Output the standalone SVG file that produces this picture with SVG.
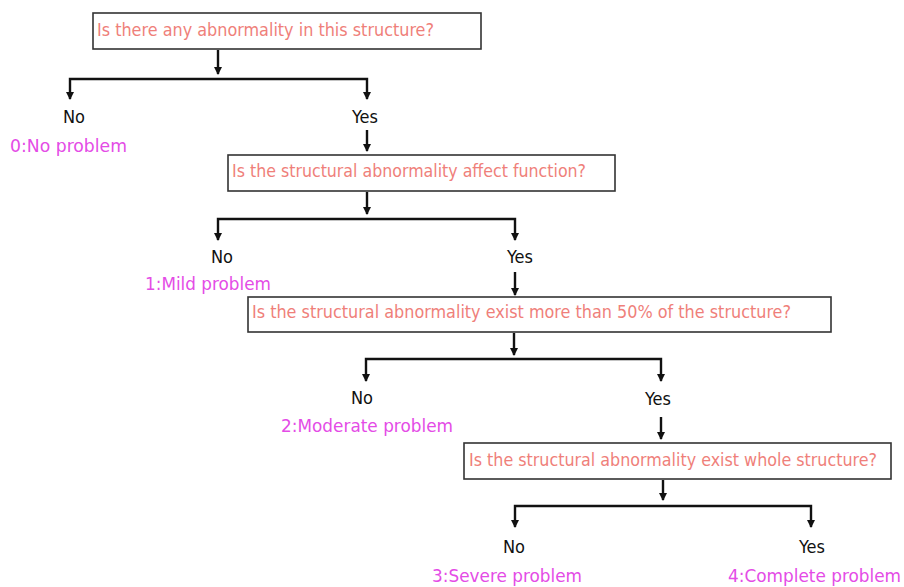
<svg xmlns="http://www.w3.org/2000/svg" width="904" height="587" viewBox="0 0 904 587">
<style>
.box{fill:#fff;stroke:#333;stroke-width:1.6}
.q{font-family:"DejaVu Sans Condensed","DejaVu Sans","Liberation Sans",sans-serif;font-size:17px;fill:#ef7f7a}
.a{font-family:"DejaVu Sans Condensed","DejaVu Sans","Liberation Sans",sans-serif;font-size:18px;fill:#111;text-anchor:middle}
.r{font-family:"DejaVu Sans Condensed","DejaVu Sans","Liberation Sans",sans-serif;font-size:18px;fill:#e44ce6}
.c{fill:none;stroke:#111;stroke-width:2.4}
</style>
<defs>
<marker id="arr" markerWidth="8" markerHeight="8" refX="4" refY="7" orient="0" markerUnits="userSpaceOnUse" viewBox="0 0 8 8">
<path d="M0,0 L8,0 L4,8 Z" fill="#111"/>
</marker>
</defs>
<g id="connectors">
<path class="c" d="M218,50 V74" marker-end="url(#arr)"/>
<path class="c" d="M70,99 V79 H367 V99" marker-start="url(#arr)" marker-end="url(#arr)"/>
<path class="c" d="M367,130 V151" marker-end="url(#arr)"/>
<path class="c" d="M367,192 V214" marker-end="url(#arr)"/>
<path class="c" d="M218,240 V219 H515 V240" marker-start="url(#arr)" marker-end="url(#arr)"/>
<path class="c" d="M515,272 V295" marker-end="url(#arr)"/>
<path class="c" d="M514,333 V355" marker-end="url(#arr)"/>
<path class="c" d="M366,381 V359 H661 V381" marker-start="url(#arr)" marker-end="url(#arr)"/>
<path class="c" d="M661,417 V439" marker-end="url(#arr)"/>
<path class="c" d="M663,480 V500" marker-end="url(#arr)"/>
<path class="c" d="M515,527 V506 H811 V527" marker-start="url(#arr)" marker-end="url(#arr)"/>
</g>
<g id="q1"><rect class="box" x="93" y="13" width="388" height="36"/><text class="q" x="97" y="36" textLength="337" lengthAdjust="spacingAndGlyphs">Is there any abnormality in this structure?</text></g>
<g id="no1"><text class="a" x="74" y="123">No</text></g>
<g id="yes1"><text class="a" x="365" y="123">Yes</text></g>
<g id="r0"><text class="r" x="10" y="152" textLength="117" lengthAdjust="spacingAndGlyphs">0:No problem</text></g>
<g id="q2"><rect class="box" x="228" y="155" width="387" height="36"/><text class="q" x="232" y="177" textLength="354" lengthAdjust="spacingAndGlyphs">Is the structural abnormality affect function?</text></g>
<g id="no2"><text class="a" x="222" y="263">No</text></g>
<g id="yes2"><text class="a" x="520" y="263">Yes</text></g>
<g id="r1"><text class="r" x="145" y="290" textLength="126" lengthAdjust="spacingAndGlyphs">1:Mild problem</text></g>
<g id="q3"><rect class="box" x="248" y="297" width="583" height="35"/><text class="q" x="252" y="318" textLength="539" lengthAdjust="spacingAndGlyphs">Is the structural abnormality exist more than 50% of the structure?</text></g>
<g id="no3"><text class="a" x="362" y="404">No</text></g>
<g id="yes3"><text class="a" x="658" y="405">Yes</text></g>
<g id="r2"><text class="r" x="281" y="432" textLength="172" lengthAdjust="spacingAndGlyphs">2:Moderate problem</text></g>
<g id="q4"><rect class="box" x="464" y="443" width="427" height="36"/><text class="q" x="469" y="466" textLength="408" lengthAdjust="spacingAndGlyphs">Is the structural abnormality exist whole structure?</text></g>
<g id="no4"><text class="a" x="514" y="553">No</text></g>
<g id="yes4"><text class="a" x="812" y="553">Yes</text></g>
<g id="r3"><text class="r" x="432" y="582" textLength="150" lengthAdjust="spacingAndGlyphs">3:Severe problem</text></g>
<g id="r4"><text class="r" x="728" y="582" textLength="173" lengthAdjust="spacingAndGlyphs">4:Complete problem</text></g>
</svg>
